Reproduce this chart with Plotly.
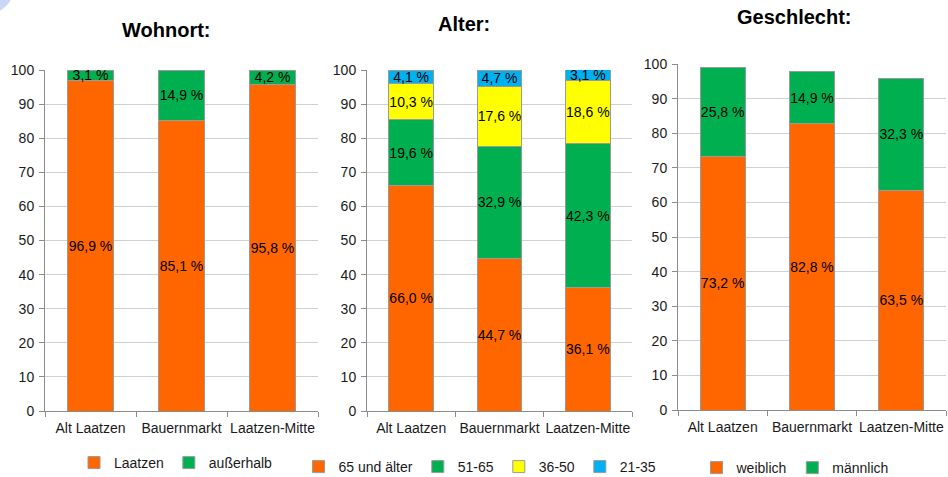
import plotly.graph_objects as go

# Umfrage-Auswertung: drei gestapelte Säulendiagramme
standorte = ["Alt Laatzen", "Bauernmarkt", "Laatzen-Mitte"]

# Wohnort
wohnort_laatzen = [96.9, 85.1, 95.8]
wohnort_ausserhalb = [3.1, 14.9, 4.2]

# Alter
alter_65_plus = [66.0, 44.7, 36.1]
alter_51_65 = [19.6, 32.9, 42.3]
alter_36_50 = [10.3, 17.6, 18.6]
alter_21_35 = [4.1, 4.7, 3.1]

# Geschlecht
geschlecht_weiblich = [73.2, 82.8, 63.5]
geschlecht_maennlich = [25.8, 14.9, 32.3]

y_ticks = [0, 10, 20, 30, 40, 50, 60, 70, 80, 90, 100]

ORANGE = "#FF6600"
GREEN = "#00B050"
YELLOW = "#FFFF00"
BLUE = "#00B0F0"
FONT = "Liberation Sans, Arial, sans-serif"
TXT = 14


def fmt(values):
    return [f"{v:.1f}".replace(".", ",") + " %" for v in values]


fig = go.Figure()


def add_bar(name, values, color, xa, ya, legend):
    fig.add_trace(go.Bar(
        x=standorte, y=values, name=name,
        marker=dict(color=color, line=dict(color="#9a9a9a", width=1)),
        text=fmt(values), textposition="inside", insidetextanchor="middle",
        textangle=0, constraintext="none",
        insidetextfont=dict(color="#000000", size=TXT, family=FONT),
        xaxis=xa, yaxis=ya, legend=legend, hoverinfo="skip",
    ))


add_bar("Laatzen", wohnort_laatzen, ORANGE, "x", "y", "legend")
add_bar("außerhalb", wohnort_ausserhalb, GREEN, "x", "y", "legend")

add_bar("65 und älter", alter_65_plus, ORANGE, "x2", "y2", "legend2")
add_bar("51-65", alter_51_65, GREEN, "x2", "y2", "legend2")
add_bar("36-50", alter_36_50, YELLOW, "x2", "y2", "legend2")
add_bar("21-35", alter_21_35, BLUE, "x2", "y2", "legend2")

add_bar("weiblich", geschlecht_weiblich, ORANGE, "x3", "y3", "legend3")
add_bar("männlich", geschlecht_maennlich, GREEN, "x3", "y3", "legend3")

W, H = 948, 477


def xdom(a, b):
    return [a / W, b / W]


def ydom(top, bottom):
    return [1 - bottom / H, 1 - top / H]


xaxis_style = dict(
    type="category", showline=True, linecolor="#8c8c8c", linewidth=1,
    ticks="outside", tickson="boundaries", ticklen=5, tickcolor="#8c8c8c",
    tickangle=0, ticklabelstandoff=4, showgrid=False,
    tickfont=dict(size=TXT, color="#1a1a1a", family=FONT),
    fixedrange=True, automargin=False,
)
yaxis_style = dict(
    range=[0, 100], tickvals=y_ticks, showline=True, linecolor="#8c8c8c",
    linewidth=1, ticks="outside", ticklen=5, tickcolor="#8c8c8c",
    ticklabelstandoff=2,
    showgrid=True, gridcolor="#d0d0d0", gridwidth=1, zeroline=False,
    tickfont=dict(size=TXT, color="#1a1a1a", family=FONT), fixedrange=True,
    automargin=False,
)

legend_style = dict(
    orientation="h", xanchor="center", yanchor="middle",
    xref="container", yref="container",
    font=dict(size=TXT, color="#1a1a1a", family=FONT),
    bgcolor="rgba(0,0,0,0)", itemwidth=30, traceorder="normal",
    itemclick=False, itemdoubleclick=False,
)

fig.update_layout(
    width=W, height=H,
    margin=dict(l=0, r=0, t=0, b=0, autoexpand=False),
    paper_bgcolor="#ffffff", plot_bgcolor="#ffffff",
    barmode="stack", bargap=0.495,
    font=dict(family=FONT, color="#000000"),
    xaxis=dict(domain=xdom(45, 318), anchor="y", **xaxis_style),
    yaxis=dict(domain=ydom(70, 411), anchor="x", **yaxis_style),
    xaxis2=dict(domain=xdom(367, 632), anchor="y2", **xaxis_style),
    yaxis2=dict(domain=ydom(70, 411), anchor="x2", **yaxis_style),
    xaxis3=dict(domain=xdom(678, 946), anchor="y3", **xaxis_style),
    yaxis3=dict(domain=ydom(64, 410), anchor="x3", **yaxis_style),
    legend=dict(x=176 / W, y=1 - 463 / H, **legend_style),
    legend2=dict(x=480 / W, y=1 - 467 / H, **legend_style),
    legend3=dict(x=795 / W, y=1 - 468 / H, **legend_style),
    showlegend=True,
)

titles = [("Wohnort:", 166, 30), ("Alter:", 464, 24), ("Geschlecht:", 794, 17)]
for txt, cx, cy in titles:
    fig.add_annotation(
        text=f"<b>{txt}</b>", x=cx / W, y=1 - cy / H, xref="paper", yref="paper",
        xanchor="center", yanchor="middle", showarrow=False,
        font=dict(size=20, color="#000000", family=FONT),
    )

# hellblauer Bogen in der oberen linken Ecke
fig.add_shape(
    type="circle", xref="paper", yref="paper",
    x0=-40 / W, x1=14 / W, y0=1 - 14 / H, y1=1 + 40 / H,
    fillcolor="#c9d6f5", line=dict(width=0), layer="below",
)

fig.write_html("out.html")
